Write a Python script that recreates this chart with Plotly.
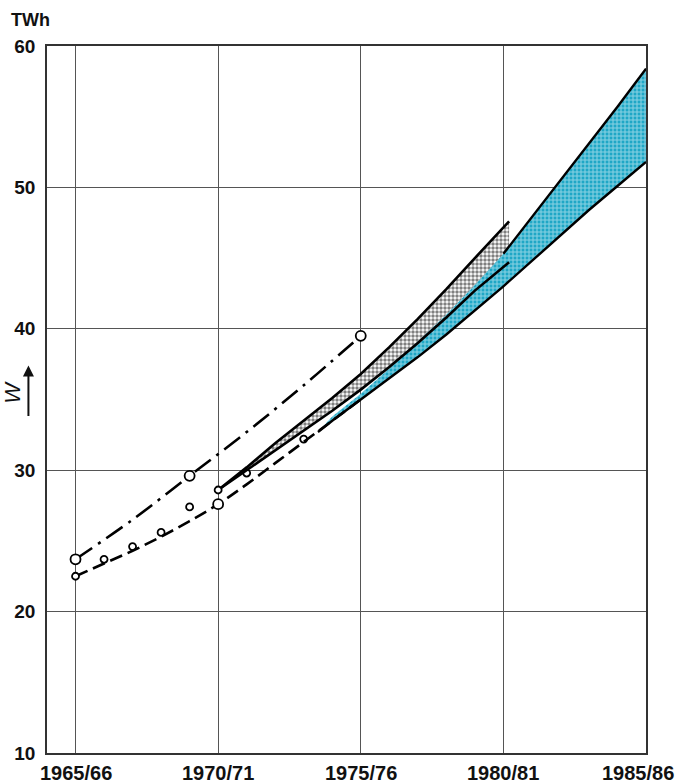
import plotly.graph_objects as go

# ---- data (x = first year of the season, e.g. 1965 -> 1965/66) ----
x_ticks = [1965, 1970, 1975, 1980, 1985]
x_tick_labels = ["1965/66", "1970/71", "1975/76", "1980/81", "1985/86"]
y_ticks = [10, 20, 30, 40, 50, 60]
y_tick_labels = ["10", "20", "30", "40", "50", "60"]

# dash-dot forecast line
dd_years = [1965, 1967, 1969, 1971, 1973, 1975]
dd_vals = [23.7, 26.5, 29.6, 32.7, 36.0, 39.5]

# dashed forecast line
dash_years = [1965, 1966, 1967, 1968, 1969, 1970, 1971, 1972, 1973, 1974, 1975]
dash_vals = [22.5, 23.4, 24.3, 25.3, 26.4, 27.6, 29.0, 30.5, 32.0, 33.5, 35.0]

# actual values (small open circles)
act_years = [1966, 1967, 1968, 1969, 1971, 1973]
act_vals = [23.7, 24.6, 25.6, 27.4, 29.8, 32.2]

# large open circles
big_years = [1965, 1969, 1975, 1970]
big_vals = [23.7, 29.6, 39.5, 27.6]

# start points
start_years = [1965, 1970]
start_vals = [22.5, 28.6]

# grey dotted band (upper edge, lower edge = heavy line)
grey_up_years = [1970, 1971, 1972, 1973, 1974, 1975, 1976, 1977, 1978, 1979, 1980.2]
grey_up_vals = [28.6, 30.2, 31.9, 33.5, 35.1, 36.8, 38.7, 40.7, 42.8, 45.0, 47.6]
grey_lo_years = [1970, 1971, 1972, 1973, 1974, 1975, 1976, 1977, 1978, 1979, 1980.2]
grey_lo_vals = [28.6, 30.0, 31.4, 32.8, 34.2, 35.7, 37.3, 39.0, 40.8, 42.7, 44.7]

# blue cross-hatched band
blue_lo_years = [1973.5, 1974, 1975, 1976, 1977, 1978, 1979, 1980, 1981, 1982, 1983, 1984, 1985]
blue_lo_vals = [32.7, 33.5, 35.0, 36.5, 38.0, 39.6, 41.3, 43.0, 44.8, 46.6, 48.4, 50.1, 51.8]
blue_up_years = [1973.5, 1974, 1975, 1976, 1977, 1978, 1979, 1980, 1981, 1982, 1983, 1984, 1985]
blue_up_vals = [32.7, 33.8, 35.4, 37.2, 39.1, 41.0, 43.1, 45.3, 47.9, 50.5, 53.1, 55.7, 58.4]

FONT = "Liberation Sans"
BLUE = "#1fa7c6"

fig = go.Figure()

# grey band fill
fig.add_trace(go.Scatter(
    x=grey_up_years + grey_lo_years[::-1],
    y=grey_up_vals + grey_lo_vals[::-1],
    fill="toself", mode="lines", line=dict(width=0),
    fillcolor="white",
    fillpattern=dict(shape=".", fgcolor="black", bgcolor="white", size=4, solidity=0.6),
    hoverinfo="skip", showlegend=False))

# blue band fill
fig.add_trace(go.Scatter(
    x=blue_lo_years + blue_up_years[::-1],
    y=blue_lo_vals + blue_up_vals[::-1],
    fill="toself", mode="lines", line=dict(width=0),
    fillcolor=BLUE,
    fillpattern=dict(shape="+", fgcolor="#f4fdff", bgcolor=BLUE, size=4, solidity=0.45),
    hoverinfo="skip", showlegend=False))

# band outlines
fig.add_trace(go.Scatter(x=grey_up_years, y=grey_up_vals, mode="lines",
                         line=dict(color="black", width=2.6), showlegend=False))
fig.add_trace(go.Scatter(x=grey_lo_years, y=grey_lo_vals, mode="lines",
                         line=dict(color="black", width=2.6), showlegend=False))
fig.add_trace(go.Scatter(x=blue_lo_years, y=blue_lo_vals, mode="lines",
                         line=dict(color="black", width=2.4), showlegend=False))
bu = [(x, y) for x, y in zip(blue_up_years, blue_up_vals) if x >= 1980]
fig.add_trace(go.Scatter(x=[p[0] for p in bu], y=[p[1] for p in bu], mode="lines",
                         line=dict(color="black", width=2.4), showlegend=False))

# forecast lines
fig.add_trace(go.Scatter(x=dd_years, y=dd_vals, mode="lines",
                         line=dict(color="black", width=2.6, dash="20px,7px,3px,7px", shape="spline"),
                         showlegend=False))
fig.add_trace(go.Scatter(x=dash_years, y=dash_vals, mode="lines",
                         line=dict(color="black", width=2.6, dash="13px,6px", shape="spline"),
                         showlegend=False))

# markers
fig.add_trace(go.Scatter(x=act_years, y=act_vals, mode="markers",
                         marker=dict(symbol="circle-open", size=7, color="black", line=dict(width=1.8)),
                         showlegend=False))
fig.add_trace(go.Scatter(x=big_years, y=big_vals, mode="markers",
                         marker=dict(symbol="circle", size=10, color="white", line=dict(color="black", width=1.8)),
                         showlegend=False))
fig.add_trace(go.Scatter(x=start_years, y=start_vals, mode="markers",
                         marker=dict(symbol="circle", size=7, color="white", line=dict(color="black", width=1.8)),
                         showlegend=False))

# x tick labels as annotations (so the last one is not clipped by the window)
for i, (xv, lab) in enumerate(zip(x_ticks, x_tick_labels)):
    fig.add_annotation(x=xv, xref="x", y=0, yref="paper", text=lab, showarrow=False,
                       xanchor="center", yanchor="top", yshift=-7,
                       xshift=-8 if i == len(x_ticks) - 1 else 0,
                       font=dict(family=FONT, size=20, color="#111", weight="bold"))

# unit label
fig.add_annotation(x=-0.028, y=1.037, xref="paper", yref="paper", text="TWh", showarrow=False,
                   xanchor="center", yanchor="middle",
                   font=dict(family=FONT, size=18, color="#111", weight="bold"))
# W with arrow
fig.add_annotation(x=-0.058, y=0.51, xref="paper", yref="paper", text="<i>W</i>", showarrow=False,
                   textangle=-90, xanchor="center", yanchor="middle",
                   font=dict(family=FONT, size=22, color="#111"))
fig.add_annotation(x=-0.031, y=0.548, xref="paper", yref="paper", text="", showarrow=True,
                   ax=0, ay=52, arrowhead=2, arrowsize=1.1, arrowwidth=2, arrowcolor="#111")

fig.update_layout(
    width=677, height=784,
    margin=dict(l=47, r=31, t=46, b=31),
    plot_bgcolor="white", paper_bgcolor="white",
    xaxis=dict(range=[1964, 1985], tickvals=x_ticks, showticklabels=False,
               showgrid=True, gridcolor="#555", gridwidth=1, zeroline=False,
               showline=True, mirror=True, linecolor="#333", linewidth=1.5, ticks=""),
    yaxis=dict(range=[10, 60], tickvals=y_ticks, ticktext=y_tick_labels,
               showgrid=True, gridcolor="#555", gridwidth=1, zeroline=False,
               showline=True, mirror=True, linecolor="#333", linewidth=1.5, ticks="",
               ticklabelstandoff=6,
               tickfont=dict(family=FONT, size=19, color="#111", weight="bold")),
)

fig.write_html("out.html", config={"displayModeBar": False},
               post_script="document.body.style.margin='0';document.body.style.overflow='hidden';")
